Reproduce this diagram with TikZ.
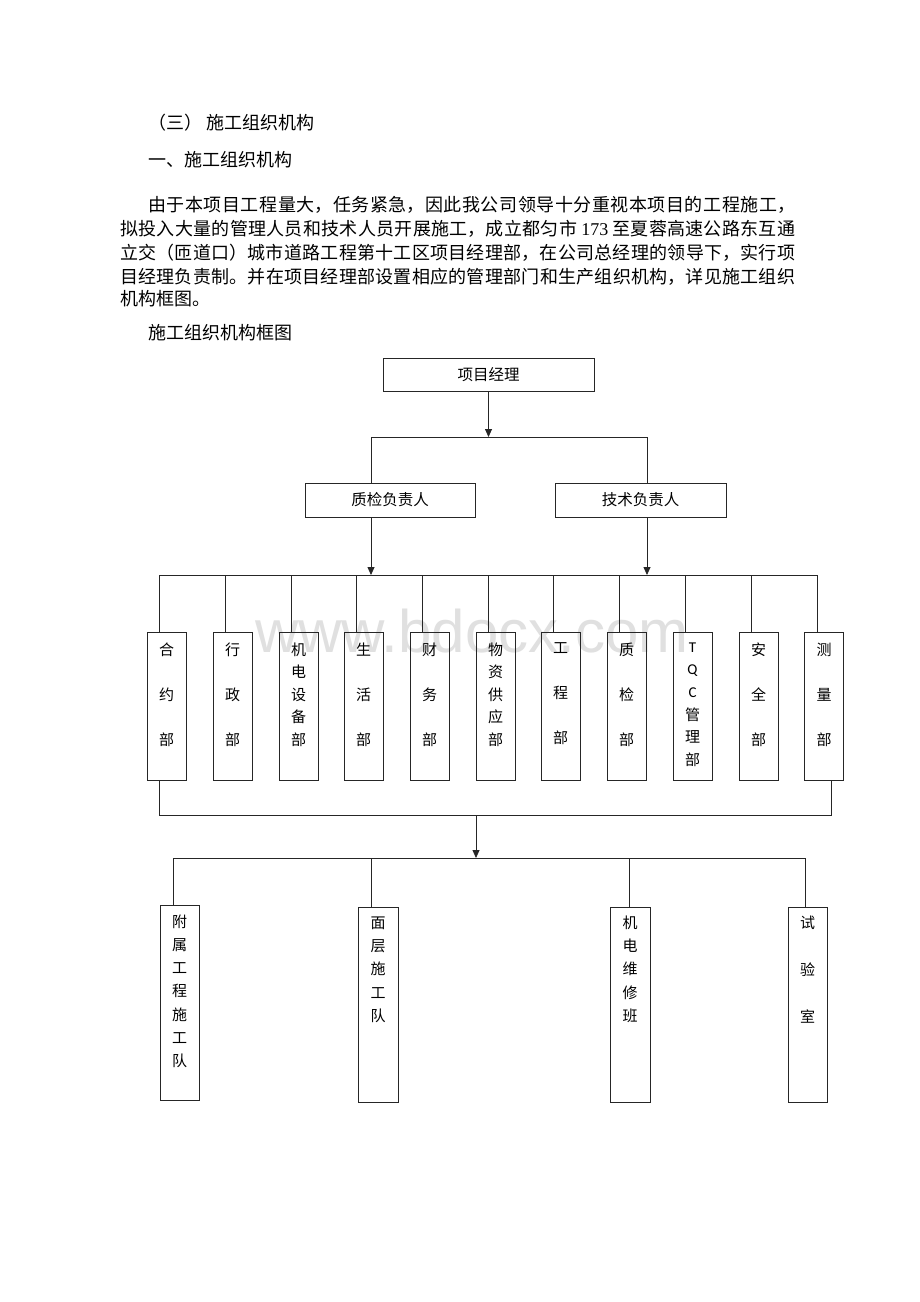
\documentclass[tikz,border=0pt]{standalone}
\usepackage{fontspec}
\setmainfont{Liberation Serif}
\newfontfamily\cjk{Noto Sans CJK SC}
\newfontfamily\wmfont{Liberation Sans}
\newfontfamily\latf{Carlito}
\usetikzlibrary{arrows.meta,calc}
\newcommand\jline[2]{\parbox{#1}{\XeTeXlinebreaklocale "zh"\XeTeXlinebreakskip=0pt plus 6pt\relax\parfillskip=0pt\relax\noindent #2}}
\tikzset{
  conn/.style={line width=0.8pt,draw=black!85},
  arr/.style={line width=0.8pt,draw=black!85,-{Triangle[length=8pt,width=7pt]}},
  hbox/.style={draw=black!85,line width=0.8pt,inner sep=0pt,font=\cjk\fontsize{15.5}{15.5}\selectfont},
  vbox/.style={draw=black!85,line width=0.8pt,inner sep=0pt,minimum width=39pt},
  vtext/.style={inner sep=0pt,align=center,anchor=north,font=\cjk\fontsize{15}{#1}\selectfont},
  para/.style={inner sep=0pt,anchor=west,font=\cjk\fontsize{18}{18}\selectfont},
}
\begin{document}
\begin{tikzpicture}[x=1pt,y=-1pt]
\useasboundingbox (0,0) rectangle (920,1302);
\fill[white] (0,0) rectangle (920,1302);

% watermark
\node[text=black!12,inner sep=0pt,anchor=base,font=\wmfont\fontsize{60}{60}\selectfont] (wm) at (472,652) {www.bdocx.com};

% text
\node[para] (h1) at (148,123) {（三） 施工组织机构};
\node[para] (h2) at (148,160) {一、施工组织机构};
\node[para] (p1) at (148,205) {\jline{647pt}{由于本项目工程量大，任务紧急，因此我公司领导十分重视本项目的工程施工，}};
\node[para] (p2) at (120,229) {\jline{675pt}{拟投入大量的管理人员和技术人员开展施工，成立都匀市 {\rmfamily 173} 至夏蓉高速公路东互通}};
\node[para] (p3) at (120,253) {\jline{675pt}{立交（匝道口）城市道路工程第十工区项目经理部，在公司总经理的领导下，实行项}};
\node[para] (p4) at (120,277) {\jline{675pt}{目经理负责制。并在项目经理部设置相应的管理部门和生产组织机构，详见施工组织}};
\node[para] (p5) at (120,299) {机构框图。};
\node[para] (h3) at (148,333) {施工组织机构框图};

% top boxes
\node[hbox,minimum width=211pt,minimum height=33pt] (pm) at (488.5,374.5) {项目经理};
\node[hbox,minimum width=170pt,minimum height=34pt] (zj) at (390,500) {质检负责人};
\node[hbox,minimum width=171pt,minimum height=34pt] (js) at (640.5,500) {技术负责人};

\coordinate (t0L) at (371,437);
\coordinate (t0R) at (647,437);
\draw[arr] (pm.south) -- (pm.south |- t0L);
\draw[conn] (t0L) -- (t0R);
\draw[conn] (t0L) -- (t0L |- zj.north);
\draw[conn] (t0R) -- (t0R |- js.north);

\coordinate (t1L) at (159,575);
\coordinate (t1R) at (817,575);
\draw[arr] (t0L |- zj.south) -- (t0L |- t1L);
\draw[arr] (t0R |- js.south) -- (t0R |- t1L);
\draw[conn] (t1L) -- (t1R);

% department boxes
\foreach \i/\x in {1/166.5,2/232.5,3/298.5,4/363.5,5/429.5,6/495.5,7/560.5,8/626.5,9/692.5,10/758.5,11/824}{
  \node[vbox,minimum height=148pt] (d\i) at (\x,706) {};
  \path ($(d\i.north)+(-7,0)$) coordinate (u\i);
  \draw[conn] (u\i |- t1L) -- (u\i);
}
\node[vtext=45] (l1) at (166.5,642.5) {合\\约\\部};
\node[vtext=45] (l2) at (232.5,642.5) {行\\政\\部};
\node[vtext=22.5] (l3) at (298.5,642.5) {机\\电\\设\\备\\部};
\node[vtext=45] (l4) at (363.5,642.5) {生\\活\\部};
\node[vtext=45] (l5) at (429.5,642.5) {财\\务\\部};
\node[vtext=22.5] (l6) at (495.5,642.5) {物\\资\\供\\应\\部};
\node[vtext=45] (l7) at (560.5,642.5) {工\\程\\部};
\node[vtext=45] (l8) at (626.5,642.5) {质\\检\\部};
\node[vtext=22.6] (l9) at (692.5,642.5) {{\latf T}\\{\latf Q}\\{\latf C}\\管\\理\\部};
\node[vtext=45] (l10) at (758.5,642.5) {安\\全\\部};
\node[vtext=45] (l11) at (824,642.5) {测\\量\\部};

% lower bus
\coordinate (t2L) at (159,815);
\coordinate (t2R) at (831,815);
\coordinate (a2) at (476,815);
\draw[conn] (t2L |- d1.south) -- (t2L) -- (t2R) -- (t2R |- d11.south);

% bottom boxes
\node[vbox,minimum height=195pt] (b1) at (179.5,1002.5) {};
\node[vbox,minimum height=195pt,minimum width=40pt] (b2) at (378,1004.5) {};
\node[vbox,minimum height=195pt,minimum width=40pt] (b3) at (630,1004.5) {};
\node[vbox,minimum height=195pt] (b4) at (807.5,1004.5) {};

\coordinate (t3L) at (173,858);
\coordinate (t3R) at (805,858);
\coordinate (c2) at (371,858);
\coordinate (c3) at (629,858);
\draw[arr] (a2) -- (a2 |- t3L);
\draw[conn] (t3L) -- (t3R);
\draw[conn] (t3L) -- (t3L |- b1.north);
\draw[conn] (c2) -- (c2 |- b2.north);
\draw[conn] (c3) -- (c3 |- b3.north);
\draw[conn] (t3R) -- (t3R |- b4.north);

\node[vtext=23.2] (m1) at (179.5,914.5) {附\\属\\工\\程\\施\\工\\队};
\node[vtext=23.25] (m2) at (378,916.5) {面\\层\\施\\工\\队};
\node[vtext=23.25] (m3) at (630,915.5) {机\\电\\维\\修\\班};
\node[vtext=47] (m4) at (807.5,915.5) {试\\验\\室};
\end{tikzpicture}
\end{document}
